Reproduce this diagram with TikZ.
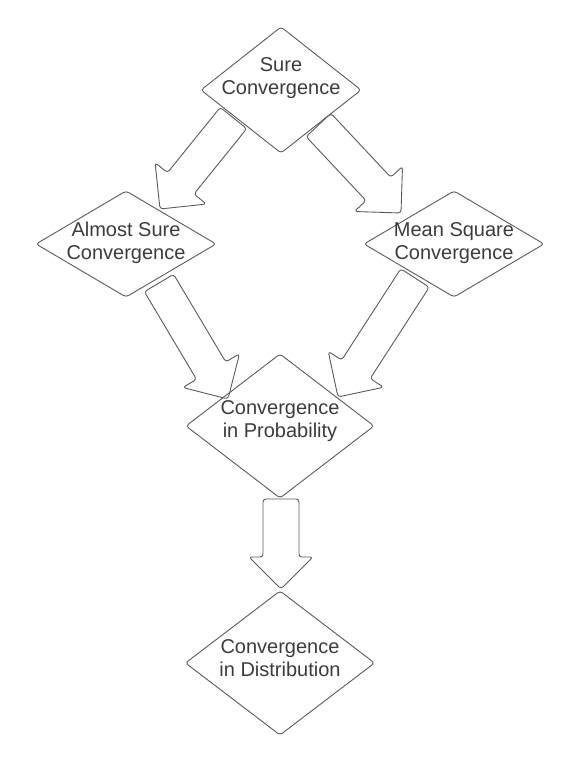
\documentclass[tikz,border=0pt]{standalone}
\usepackage{fontspec}
\setmainfont{Liberation Sans}
\usetikzlibrary{shapes.geometric,calc}
\definecolor{linec}{HTML}{5A5A5A}
\definecolor{textc}{HTML}{3C3C3C}
\tikzset{
  dia/.style={shape=diamond, draw=linec, line width=0.9pt, rounded corners=3pt, inner sep=0pt, outer sep=0pt},
  txt/.style={text=textc, font=\fontsize{20}{23.5}\selectfont, align=center, inner sep=0pt},
  barrow/.style={draw=linec, line width=0.9pt, rounded corners=3pt, line join=round},
}
\newcommand{\blockarrow}[4]{%
  \coordinate (#1h) at ($(#2)!#4!(#1)$);
  \draw[barrow] ($(#1)!#3!90:(#2)$) -- ($(#1h)!#3!90:(#2)$) -- ($(#1h)!#4!90:(#2)$) -- (#2)
     -- ($(#1h)!#4!-90:(#2)$) -- ($(#1h)!#3!-90:(#2)$) -- ($(#1)!#3!-90:(#2)$) -- cycle;
}
\begin{document}
\begin{tikzpicture}[x=1pt,y=-1pt]
\useasboundingbox (0,0) rectangle (580,762);
% diamonds
\node[dia, minimum width=160pt, minimum height=126pt,
  label={[txt,yshift=12pt]center:{Sure\\Convergence}}] (sure) at (281,90) {};
\node[dia, minimum width=180pt, minimum height=106pt,
  label={[txt,yshift=1pt]center:{Almost Sure\\Convergence}}] (as) at (126,244) {};
\node[dia, minimum width=180pt, minimum height=106pt,
  label={[txt,yshift=1pt]center:{Mean Square\\Convergence}}] (ms) at (454,244) {};
\node[dia, minimum width=188pt, minimum height=144pt,
  label={[txt,yshift=5pt]center:{Convergence\\in Probability}}] (prob) at (280,426) {};
\node[dia, minimum width=189pt, minimum height=144pt,
  label={[txt,yshift=5pt]center:{Convergence\\in Distribution}}] (dist) at (280,663) {};
% arrow ends
\coordinate (aat) at (233.5,118);  \coordinate (aae) at (160,209);
\coordinate (abt) at (318.5,125);  \coordinate (abe) at (401,213);
\coordinate (act) at (159,283);    \coordinate (ace) at (228,399);
\coordinate (adt) at (415,278);    \coordinate (ade) at (338,397);
\coordinate (aet) at (281,499);    \coordinate (aee) at (281,589);
% block arrows
\blockarrow{aat}{aae}{17pt}{33pt}
\blockarrow{abt}{abe}{17pt}{33pt}
\blockarrow{act}{ace}{17pt}{33pt}
\blockarrow{adt}{ade}{17pt}{33pt}
\blockarrow{aet}{aee}{18pt}{32pt}
\end{tikzpicture}
\end{document}
